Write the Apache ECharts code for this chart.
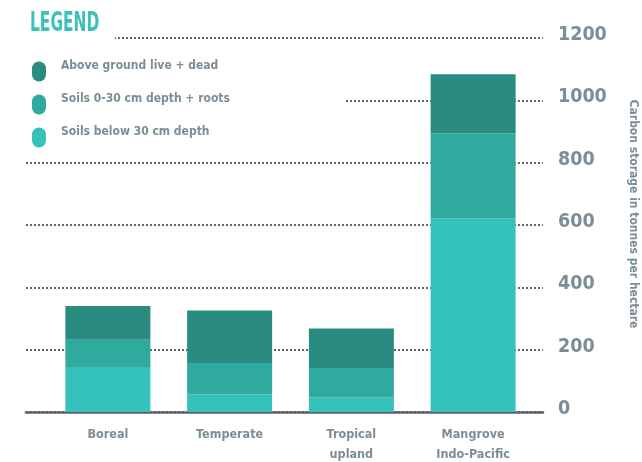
<!DOCTYPE html>
<html>
<head>
<meta charset="utf-8">
<script src="https://cdn.jsdelivr.net/npm/echarts@6/dist/echarts.min.js"></script>
<style>html,body{margin:0;padding:0;background:#fff;}#c{width:642px;height:462px;}</style>
</head>
<body>
<div id="c"></div>
<script>
const categories = ['Boreal', 'Temperate', 'Tropical\nupland', 'Mangrove\nIndo-Pacific'];
const seriesNames = ['Above ground live + dead', 'Soils 0-30 cm depth + roots', 'Soils below 30 cm depth'];
const soilsBelow30 = [144, 56, 47, 622];
const soils0to30Roots = [88, 101, 94, 272];
const aboveGround = [108, 169, 127, 190];
const yMin = 0, yMax = 1200, yInterval = 200;
const axisTitle = 'Carbon storage in tonnes per hectare';
const legendTitle = 'LEGEND';

const FONT = "'DejaVu Sans Condensed', 'Liberation Sans Narrow', sans-serif";
const GREY = '#7b8d97';
const C_DARK = '#2a8b80', C_MID = '#30aa9e', C_LIGHT = '#35c2bc';
const pill = 'path://M0,7 A7,7 0 0 1 14,7 L14,13 A7,7 0 0 1 0,13 Z';

const chart = echarts.init(document.getElementById('c'));
chart.setOption({
  animation: false,
  backgroundColor: '#fff',
  legend: {
    orient: 'vertical', left: 32, top: 60, z: 10, padding: 0,
    itemWidth: 14, itemHeight: 20, itemGap: 11.5,
    data: seriesNames.map(n => ({ name: n, icon: pill })),
    formatter: '{t|{name}}',
    textStyle: { fontFamily: FONT, fontSize: 12, fontWeight: 'bold', color: GREY,
      rich: { t: { fontFamily: FONT, fontSize: 12, fontWeight: 'bold', color: GREY, padding: [0, 0, 11, 10] } } },
    selectedMode: false
  },
  graphic: [
    { type: 'rect', z: 1, left: 0, top: 32, shape: { width: 115, height: 12 }, style: { fill: '#fff' } },
    { type: 'rect', z: 1, left: 0, top: 94, shape: { width: 345, height: 12 }, style: { fill: '#fff' } },
    { type: 'text', z: 10, left: 30, top: 11, scaleX: 0.66,
      style: { text: legendTitle, fontFamily: FONT, fontSize: 26, fontWeight: 'bold', fill: '#3cc1b9' } }
  ],
  grid: [
    { left: 26, right: 99, top: 38, bottom: 50, outerBoundsMode: 'none', containLabel: false },
    { left: 47, right: 108, top: 38, bottom: 50, outerBoundsMode: 'none', containLabel: false }
  ],
  xAxis: [
    { gridIndex: 0, type: 'category', data: [''],
      axisLine: { show: true, lineStyle: { color: '#5f5f6b', width: 2.5 } },
      axisTick: { show: false }, axisLabel: { show: false } },
    { gridIndex: 1, type: 'category', data: categories,
      axisLine: { show: false }, axisTick: { show: false },
      axisLabel: { margin: 13, fontFamily: FONT, fontSize: 12.5, fontWeight: 'bold', color: GREY, lineHeight: 20 } }
  ],
  yAxis: [
    { gridIndex: 0, type: 'value', position: 'right', min: yMin, max: yMax, interval: yInterval,
      axisLine: { show: false }, axisTick: { show: false },
      splitLine: { show: true, lineStyle: { type: [2, 2], color: '#333340', width: 1.5 } },
      axisLabel: { margin: 15, fontFamily: FONT, fontSize: 19.5, fontWeight: 'bold', color: GREY,
        verticalAlign: 'bottom', lineHeight: 6, formatter: v => String(v) },
      name: axisTitle, nameLocation: 'middle', nameRotate: -90, nameGap: 84,
      nameTextStyle: { fontFamily: FONT, fontSize: 12, fontWeight: 'bold', color: GREY, padding: [0, 22, 0, 0] } },
    { gridIndex: 1, type: 'value', min: yMin, max: yMax, interval: yInterval, show: false,
      splitLine: { show: false } }
  ],
  series: [
    { name: seriesNames[2], type: 'bar', stack: 's', xAxisIndex: 1, yAxisIndex: 1, barWidth: 85,
      itemStyle: { color: C_LIGHT }, data: soilsBelow30 },
    { name: seriesNames[1], type: 'bar', stack: 's', xAxisIndex: 1, yAxisIndex: 1, barWidth: 85,
      itemStyle: { color: C_MID }, data: soils0to30Roots },
    { name: seriesNames[0], type: 'bar', stack: 's', xAxisIndex: 1, yAxisIndex: 1, barWidth: 85,
      itemStyle: { color: C_DARK }, data: aboveGround }
  ]
});
</script>
</body>
</html>
